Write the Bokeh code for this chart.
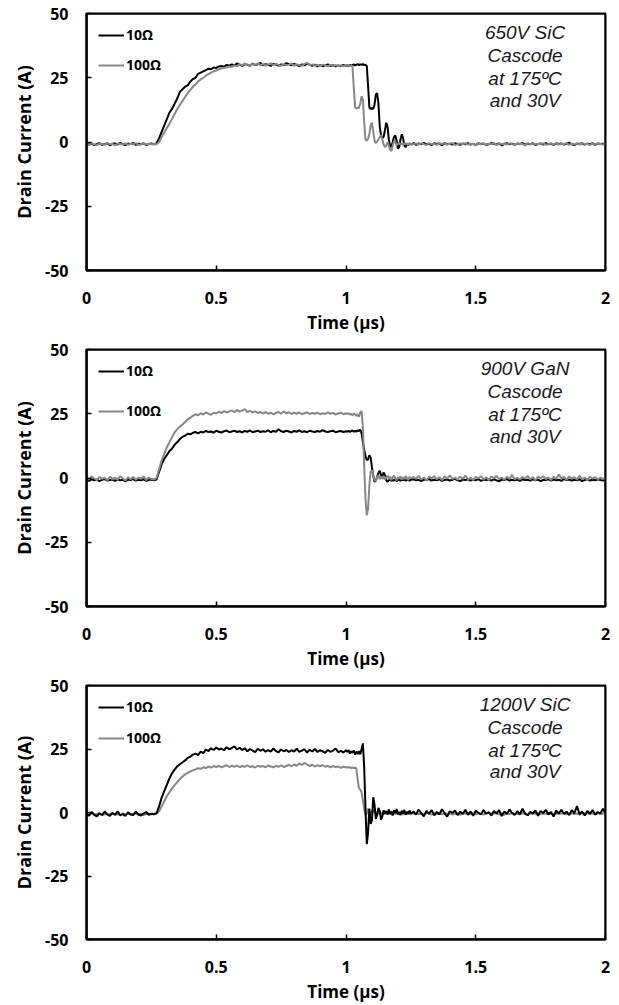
from bokeh.plotting import figure
from bokeh.models import (Range1d, FixedTicker, NumeralTickFormatter, Legend, LegendItem,
                          Label, BoxAnnotation)
from bokeh.layouts import column
from bokeh.embed import file_html
from bokeh.resources import INLINE

# ---------------- data ----------------
# sampling grid: four segments (start, step); each series is given per segment
SEG_START = [0.0, 0.26, 1.005, 1.26]
SEG_STEP = [0.01, 0.01, 0.005, 0.01]

X_TICKS = [0, 0.5, 1, 1.5, 2]
Y_TICKS = [-50, -25, 0, 25, 50]
SERIES_LABELS = ["10Ω", "100Ω"]
PANEL_TITLES = [
    ["650V SiC", "Cascode", "at 175ºC", "and 30V"],
    ["900V GaN", "Cascode", "at 175ºC", "and 30V"],
    ["1200V SiC", "Cascode", "at 175ºC", "and 30V"],
]

# 650V SiC cascode, 10 ohm gate resistor (A)
sic650_10ohm = [
    [-0.5, -1.0, -0.6, -1.2, -0.8, -0.4, -1.1, -0.9, -0.5, -1.3, -0.7, -0.6, -1.0, -0.3, -0.9,
     -1.2, -0.6, -0.8, -0.4, -1.1, -0.7, -0.9, -0.5, -1.2, -0.8, -0.6],
    [-0.9, -0.5, 1.5, 4.0, 6.5, 9.0, 11.5, 13.0, 15.0, 17.0,
     19.5, 20.5, 21.5, 22.0, 23.5, 24.5, 25.0, 26.5, 27.0, 27.5,
     28.0, 28.5, 28.3, 29.0, 28.8, 29.4, 29.6, 29.3, 30.0, 29.7,
     30.2, 29.8, 30.6, 30.1, 29.6, 30.4, 30.0, 29.7, 30.5, 29.9,
     30.2, 30.8, 29.8, 30.3, 30.0, 29.6, 30.4, 30.1, 29.7, 30.2,
     29.9, 30.7, 30.3, 29.8, 30.4, 30.0, 29.5, 30.2, 29.8, 30.5,
     30.0, 29.6, 30.1, 29.4, 29.9, 29.5, 29.8, 30.2, 29.6, 29.9,
     29.4, 29.8, 29.5, 30.0, 29.6],
    [29.8, 29.5, 30.0, 29.7, 29.9, 30.2, 29.8, 30.1, 30.3, 29.9,
     30.2, 30.0, 30.3, 29.9, 30.1, 29.6, 22.0, 13.5, 12.8, 13.2,
     12.9, 14.5, 18.5, 19.0, 15.0, 6.0, 2.5, 1.5, 2.0, 4.5,
     7.5, 6.0, 1.0, -1.5, -2.0, 0.0, 2.0, 2.5, 0.5, -2.5,
     -2.0, 1.0, 3.0, 1.5, -1.5, -2.0, -0.5, -1.2, -0.6, -1.0],
    [-0.4, -1.1, -0.6, -0.9, -0.3, -1.0, -0.7, -1.2, -0.5, -0.8, -0.6, -1.3, -0.4, -0.9, -0.7,
     -1.0, -0.5, -0.8, -1.1, -0.6, -0.9, -0.4, -1.0, -0.7, -1.2, -0.5, -0.8, -0.6, -1.1, -0.9,
     -0.4, -0.7, -1.0, -0.6, -1.3, -0.8, -0.5, -0.9, -0.7, -1.1, -0.6, -0.8, -0.4, -1.0, -0.7,
     -0.9, -0.5, -1.2, -0.8, -0.6, -1.0, -0.4, -0.9, -0.7, -1.1, -0.5, -0.8, -0.6, -1.0, -0.7,
     -0.3, -0.9, -1.2, -0.6, -0.8, -0.5, -1.0, -0.7, -0.9, -0.4, -1.1, -0.6, -0.8, -0.7, -0.9],
]

# 650V SiC cascode, 100 ohm
sic650_100ohm = [
    [-0.7, -1.0, -0.5, -0.9, -1.2, -0.6, -0.8, -1.1, -0.4, -0.9, -0.7, -1.3, -0.6, -0.8, -1.0,
     -0.5, -1.1, -0.7, -0.9, -0.4, -1.2, -0.8, -0.6, -1.0, -0.7, -0.9],
    [-0.8, -0.9, 0.0, 2.0, 3.8, 5.5, 7.2, 9.0, 11.0, 12.8,
     14.5, 16.0, 17.5, 19.0, 20.3, 21.5, 22.5, 23.5, 24.3, 25.0,
     25.8, 26.4, 27.0, 27.5, 27.8, 28.3, 28.6, 28.9, 29.0, 29.4,
     29.2, 29.8, 29.5, 30.2, 29.8, 30.5, 30.1, 29.7, 30.4, 30.0,
     30.6, 29.9, 30.3, 29.7, 30.2, 30.6, 29.9, 30.4, 30.0, 29.6,
     30.3, 29.8, 30.1, 30.5, 29.7, 30.2, 30.0, 29.6, 30.4, 30.8,
     29.9, 30.2, 29.7, 30.0, 29.5, 30.1, 29.8, 29.4, 30.0, 29.7,
     29.9, 29.5, 29.8, 29.6, 29.9],
    [29.7, 29.9, 29.5, 29.8, 29.4, 21.0, 13.5, 13.0, 13.4, 13.2,
     15.0, 17.8, 16.5, 8.0, 1.0, 0.5, 1.2, 3.0, 6.5, 7.5,
     4.0, 0.5, -0.5, 0.2, 1.0, 2.0, 2.5, 1.0, -1.0, -2.0,
     -1.5, 0.0, -1.5, -3.0, -3.5, -1.5, 0.5, 0.0, -1.2, -0.8,
     -0.3, -1.0, -0.6, -1.1, -0.4, -0.9, -0.7, -1.0, -0.5, -0.8],
    [-0.9, -0.5, -1.0, -0.6, -0.8, -1.2, -0.4, -0.9, -0.7, -1.1, -0.5, -0.8, -0.6, -1.0, -0.7,
     -0.4, -1.2, -0.8, -0.6, -0.9, -0.5, -1.0, -0.7, -0.8, -1.3, -0.6, -0.9, -0.5, -1.0, -0.7,
     -0.8, -0.4, -1.1, -0.6, -0.9, -0.7, -1.0, -0.5, -0.8, -1.2, -0.6, -0.9, -0.7, -1.4, -0.5,
     -0.8, -0.6, -1.0, -0.7, -0.9, -0.5, -1.1, -0.8, -0.6, -0.9, -0.4, -1.0, -0.7, -0.8, -0.5,
     -1.1, -0.7, -0.9, -0.6, -1.0, -0.4, -0.8, -0.7, -1.2, -0.5, -0.9, -0.6, -0.8, -1.0, -0.7],
]

# 900V GaN cascode, 10 ohm
gan900_10ohm = [
    [-0.8, -1.1, -0.5, -0.9, -0.6, -1.2, -0.7, -0.4, -1.0, -0.8, -0.6, -1.1, -0.5, -0.9, -0.7,
     -1.3, -0.6, -0.8, -0.4, -1.0, -0.7, -0.9, -0.5, -1.1, -0.8, -0.6],
    [-0.9, -0.6, 2.5, 5.5, 7.5, 9.0, 10.5, 11.5, 13.0, 14.0,
     15.2, 16.0, 16.5, 17.2, 17.0, 17.6, 17.9, 17.4, 18.0, 17.7,
     18.3, 17.9, 18.1, 17.6, 18.4, 18.0, 17.7, 18.2, 18.5, 17.8,
     18.1, 18.4, 17.9, 18.2, 17.7, 18.3, 18.0, 18.5, 17.8, 18.1,
     18.4, 17.9, 18.2, 18.0, 18.6, 17.8, 18.3, 18.0, 19.0, 18.2,
     17.9, 18.4, 18.1, 17.7, 18.3, 18.0, 18.5, 17.9, 18.2, 17.8,
     18.4, 18.1, 17.9, 18.3, 18.0, 18.6, 18.1, 17.9, 18.2, 18.4,
     17.8, 18.1, 18.3, 17.9, 18.2],
    [18.0, 18.4, 17.9, 18.2, 18.5, 18.0, 18.3, 18.1, 18.6, 18.2,
     18.8, 17.5, 14.0, 11.0, 8.5, 7.0, 7.2, 8.8, 8.0, 4.0,
     1.0, -1.5, -1.0, 0.5, 2.0, 2.8, 1.2, 0.0, 2.2, 1.0,
     -0.8, -1.5, -0.9, -0.4, -1.2, -0.7, -1.0, -0.5, -1.3, -0.8,
     -0.6, -1.1, -0.7, -0.9, -0.4, -1.0, -0.8, -0.6, -1.1, -0.7],
    [-0.5, -0.9, -0.7, -1.2, -0.6, -0.8, -0.4, -1.0, -0.7, -0.9, -0.5, -1.1, -0.8, -0.6, -1.0,
     -0.7, -0.3, -0.9, -1.2, -0.6, -0.8, -0.5, -1.0, -0.7, -0.9, -0.4, -1.1, -0.6, -0.8, -0.7,
     -1.0, -0.5, -0.9, -1.3, -0.6, -0.8, -0.4, -1.0, -0.7, -0.9, -0.6, -1.1, -0.5, -0.8, -0.7,
     -1.0, -0.4, -0.9, -0.6, -1.2, -0.7, -0.8, -0.5, -1.0, -0.6, -0.9, -0.7, -1.1, -0.4, -0.8,
     -0.6, -1.0, -0.7, -0.9, -0.5, -1.2, -0.8, -0.6, -1.0, -0.7, -0.9, -0.5, -0.8, -1.0, -0.7],
]

# 900V GaN cascode, 100 ohm
gan900_100ohm = [
    [0.3, -0.5, 0.6, -0.2, -0.8, 0.4, -0.3, 0.1, -0.9, 0.5, -0.4, 0.2, -0.6, 0.7, -0.2,
     -1.0, 0.3, -0.5, 0.4, -0.7, 0.1, -0.3, 0.6, -0.8, 0.2, -0.4],
    [-0.6, 0.0, 3.5, 7.0, 9.5, 12.0, 14.0, 16.0, 17.8, 19.0,
     20.0, 20.8, 21.8, 22.8, 23.5, 24.2, 24.8, 24.4, 25.2, 24.7,
     25.5, 25.0, 24.6, 25.4, 25.1, 25.8, 25.3, 26.0, 25.5, 25.9,
     26.3, 25.6, 26.5, 25.8, 26.2, 26.8, 25.7, 26.1, 25.5, 25.9,
     25.3, 25.7, 25.1, 25.6, 25.0, 25.4, 24.8, 25.3, 25.7, 25.0,
     25.9, 25.2, 25.6, 24.9, 25.4, 25.0, 25.5, 24.8, 25.2, 25.6,
     24.9, 25.3, 25.0, 25.4, 24.8, 25.2, 24.9, 25.5, 25.0, 25.3,
     24.7, 25.1, 25.4, 24.8, 25.2],
    [24.9, 25.3, 24.6, 25.0, 24.4, 25.1, 24.7, 24.2, 24.8, 23.8,
     25.5, 26.0, 20.0, 5.0, -8.0, -14.5, -12.0, -3.0, 2.5, 3.0,
     1.0, -0.8, -1.2, 0.3, 1.0, -0.5, 0.6, -0.3, 0.8, -0.6,
     0.2, 1.0, -0.4, 0.5, -0.8, 0.3, 0.9, -0.2, -0.9, 0.4,
     -0.3, 0.7, -0.6, 0.2, -0.4, 0.8, -0.1, -0.7, 0.5, -0.2],
    [0.4, -0.3, 0.8, -0.6, 0.2, -0.9, 0.5, -0.1, 0.7, -0.5, 0.3, -0.8, 0.6, -0.2, 1.0,
     -0.4, 0.2, -0.7, 0.5, -0.3, 0.9, -0.5, 0.1, -0.8, 0.4, -0.2, 0.7, -0.6, 0.3, -0.9,
     0.6, -0.1, 0.8, -0.4, 0.2, -0.7, 0.5, -0.3, 1.2, -0.5, 0.1, -0.6, 0.4, -0.2, 0.8,
     -0.5, 0.3, -0.9, 0.6, -0.1, 0.7, -0.4, 0.2, -0.8, 0.5, -0.3, 1.4, -0.2, 0.4, -0.7,
     0.6, -0.1, 0.3, -0.6, 0.8, -0.4, 0.2, -0.9, 0.5, -0.2, 0.3, -0.5, 0.1, -0.3, -0.2],
]

# 1200V SiC cascode, 10 ohm
sic1200_10ohm = [
    [-0.6, -1.2, 0.2, -0.9, -1.5, -0.3, -1.0, 0.4, -0.8, -1.3, -0.2, -0.9, 0.5, -1.1, -0.6,
     -1.4, 0.1, -0.7, -1.0, 0.3, -0.8, -1.2, -0.4, 0.2, -0.9, -0.5],
    [-0.7, -0.3, 2.5, 6.0, 8.5, 11.0, 13.5, 15.5, 17.0, 18.2,
     19.0, 19.8, 20.5, 21.5, 22.0, 22.8, 23.2, 22.6, 24.0, 23.4,
     24.8, 24.2, 25.3, 24.6, 25.6, 24.8, 25.2, 24.5, 25.7, 24.9,
     25.4, 26.0, 24.8, 25.5, 24.6, 25.3, 24.1, 25.0, 24.4, 23.8,
     25.1, 24.3, 24.9, 23.9, 24.6, 24.0, 25.2, 24.2, 23.7, 24.8,
     24.1, 24.6, 23.8, 24.5, 24.0, 25.1, 23.9, 24.4, 24.9, 23.6,
     24.7, 24.0, 25.0, 23.8, 24.5, 24.1, 23.5, 24.6, 23.9, 24.4,
     25.2, 23.7, 24.3, 23.6, 24.5],
    [23.9, 24.6, 23.2, 24.1, 23.5, 24.4, 22.8, 24.0, 23.0, 24.2,
     22.9, 25.0, 27.2, 18.0, 2.0, -12.5, -8.0, 1.5, -4.5, -3.0,
     6.0, 3.0, -2.5, -1.0, 1.8, 0.5, -2.8, -1.5, 0.8, -0.4,
     0.6, -0.8, 1.2, -0.5, 0.4, -1.2, 0.9, -0.3, 1.4, -0.6,
     0.2, -1.0, 0.7, -0.4, 1.0, -0.9, 0.3, -0.6, 0.8, -0.5],
    [0.4, -0.8, 1.2, -0.3, -1.5, 0.6, -0.5, 0.9, -1.1, 0.2, -0.7, 1.3, -0.4, -1.6, 0.5,
     -0.2, 0.8, -1.0, 0.3, -0.6, 1.1, -0.9, 0.4, -1.3, 0.7, -0.1, -0.8, 1.0, -0.5, 0.2,
     -1.2, 0.6, -0.3, 0.9, -1.4, 0.4, -0.6, 1.2, -0.2, -1.0, 0.5, -0.7, 1.5, -0.4, -1.1,
     0.3, -0.5, 0.8, -1.3, 0.6, -0.2, 1.0, -0.8, 0.2, -1.6, 0.7, -0.4, 1.1, -0.6, 0.3,
     -1.0, 0.9, -0.3, 2.5, -0.7, 0.4, -1.2, 0.6, -0.5, 1.0, -0.8, 0.2, -0.4, 1.5, -0.3],
]

# 1200V SiC cascode, 100 ohm
sic1200_100ohm = [
    [-0.5, -0.8, -0.3, -0.9, -0.6, -0.4, -1.0, -0.7, -0.5, -0.8, -0.3, -0.9, -0.6, -1.1, -0.4,
     -0.7, -0.5, -0.9, -0.6, -0.3, -0.8, -0.5, -1.0, -0.6, -0.4, -0.7],
    [-0.6, -0.4, 0.5, 2.5, 4.5, 6.5, 8.0, 9.5, 10.8, 12.0,
     13.2, 14.2, 15.0, 15.6, 16.2, 16.6, 17.0, 17.4, 17.2, 17.8,
     17.5, 18.1, 17.7, 18.3, 17.9, 18.4, 17.8, 18.2, 18.6, 17.9,
     18.4, 18.0, 18.5, 17.8, 18.3, 18.0, 18.6, 17.9, 18.2, 17.7,
     18.4, 18.0, 18.3, 17.8, 18.5, 18.1, 17.8, 18.4, 18.0, 18.6,
     17.9, 18.3, 18.8, 18.2, 18.9, 18.4, 19.3, 18.7, 19.5, 18.9,
     18.3, 18.8, 18.1, 18.6, 18.2, 18.7, 18.0, 18.4, 17.8, 18.3,
     17.9, 18.1, 17.6, 18.0, 17.7],
    [18.0, 17.6, 17.9, 17.5, 17.8, 17.4, 17.7, 17.3, 13.0, 9.5,
     9.0, 8.0, 5.0, 1.5, -1.0, -0.5, 1.5, 0.5, -0.8, 0.6,
     1.2, -0.2, -0.6, 0.3, -0.4, 0.1, -0.5, -0.2, -0.7, -0.3,
     -0.5, -0.1, -0.6, -0.3, -0.8, -0.4, -0.2, -0.6, -0.3, -0.7,
     -0.4, -0.2, -0.5, -0.8, -0.3, -0.6, -0.4, -0.2, -0.5, -0.3],
    [-0.5, -0.3, -0.7, -0.4, -0.6, -0.2, -0.5, -0.8, -0.3, -0.6, -0.4, -0.7, -0.2, -0.5, -0.3,
     -0.8, -0.6, -0.4, -0.9, -0.3, -0.5, -0.2, -0.6, -0.4, -0.7, -0.3, -0.5, -0.8, -0.4, -0.2,
     -0.6, -0.3, -0.5, -0.7, -0.4, -0.9, -0.3, -0.6, -0.2, -0.5, -0.4, -0.7, -0.3, -0.6, -0.8,
     -0.4, -0.2, -0.5, -0.3, -0.7, -0.4, -0.6, -0.2, -0.5, -0.8, -0.3, -0.6, -0.4, -0.2, -0.7,
     -0.5, -0.3, -0.6, -0.4, -0.8, -0.2, -0.5, -0.3, -0.6, -0.4, -0.7, -0.3, -0.5, -0.4, -0.6],
]

# ---------------- styling ----------------
BLACK = "#000000"
GRAY = "#878787"
TICK_FONT = "Open Sans"
NOTE_FONT = "Liberation Sans"
FRAME_H = 258
TOP = 13


def flatten(segments):
    t, v = [], []
    for start, step, seg in zip(SEG_START, SEG_STEP, segments):
        t += [round(start + step * i, 4) for i in range(len(seg))]
        v += list(seg)
    return t, v


def make_panel(black_segs, gray_segs, title_lines, height, legend_spacing, gray_on_top):
    p = figure(width=613, height=height, x_range=Range1d(0, 2), y_range=Range1d(-50, 50),
               output_backend="svg", toolbar_location=None,
               min_border_left=86, min_border_right=8, min_border_top=TOP,
               min_border_bottom=height - TOP - FRAME_H)
    p.xgrid.visible = False
    p.ygrid.visible = False
    p.outline_line_color = "black"
    p.outline_line_width = 2
    p.outline_line_alpha = 1.0
    p.add_layout(BoxAnnotation(fill_alpha=0, line_color="black", line_width=2,
                               line_alpha=1.0))

    p.xaxis.ticker = FixedTicker(ticks=X_TICKS)
    p.xaxis.formatter = NumeralTickFormatter(format="0.[0]")
    p.yaxis.ticker = FixedTicker(ticks=Y_TICKS)
    p.yaxis.formatter = NumeralTickFormatter(format="0")
    for ax in (p.xaxis, p.yaxis):
        ax.axis_line_color = "black"
        ax.axis_line_width = 2
        ax.major_tick_in = 5
        ax.major_tick_out = 0
        ax.major_tick_line_color = "black"
        ax.major_tick_line_width = 1.5
        ax.minor_tick_line_color = None
        ax.major_label_text_font = TICK_FONT
        ax.major_label_text_font_style = "bold"
        ax.major_label_text_font_size = "16px"
        ax.major_label_text_color = "black"
        ax.axis_label_text_font = TICK_FONT
        ax.axis_label_text_font_style = "bold"
        ax.axis_label_text_color = "black"
    p.xaxis.major_label_standoff = 21
    p.yaxis.major_label_standoff = 18
    p.xaxis.axis_label = "Time (µs)"
    p.xaxis.axis_label_text_font_size = "17px"
    p.xaxis.axis_label_standoff = 4
    p.yaxis.axis_label = "Drain Current (A)"
    p.yaxis.axis_label_text_font_size = "18px"
    p.yaxis.axis_label_standoff = 6

    tb, vb = flatten(black_segs)
    tg, vg = flatten(gray_segs)
    if gray_on_top:
        rb = p.line(tb, vb, line_color=BLACK, line_width=2)
        rg = p.line(tg, vg, line_color=GRAY, line_width=2)
    else:
        rg = p.line(tg, vg, line_color=GRAY, line_width=2)
        rb = p.line(tb, vb, line_color=BLACK, line_width=2)

    legend = Legend(items=[LegendItem(label=SERIES_LABELS[0], renderers=[rb]),
                           LegendItem(label=SERIES_LABELS[1], renderers=[rg])],
                    location="top_left", margin=0, padding=12, spacing=legend_spacing,
                    glyph_width=26, glyph_height=16, label_height=16, label_standoff=2,
                    label_text_font=TICK_FONT, label_text_font_size="14px",
                    label_text_font_style="bold", label_text_color="black",
                    border_line_alpha=0, background_fill_alpha=0)
    p.add_layout(legend)

    note_y = [42.6, 33.5, 24.6, 16.0]
    for line_text, yy in zip(title_lines, note_y):
        p.add_layout(Label(x=1.69, y=yy, text=line_text, text_align="center",
                           text_baseline="middle", text_font=NOTE_FONT,
                           text_font_style="italic", text_font_size="19px",
                           text_color="#1a1a1a"))
    return p


p1 = make_panel(sic650_10ohm, sic650_100ohm, PANEL_TITLES[0], 336, 11, True)
p2 = make_panel(gan900_10ohm, gan900_100ohm, PANEL_TITLES[1], 336, 21, True)
p3 = make_panel(sic1200_10ohm, sic1200_100ohm, PANEL_TITLES[2], 333, 12, False)

layout = column(p1, p2, p3, spacing=0)
open("out.html", "w").write(file_html(layout, INLINE))
